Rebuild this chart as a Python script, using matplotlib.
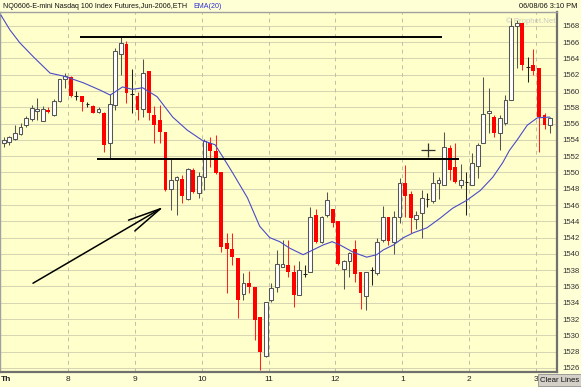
import matplotlib
matplotlib.use('Agg')
import matplotlib.pyplot as plt
import numpy as np

plt.rcParams['font.family'] = ['Liberation Sans', 'DejaVu Sans']

# 5 分钟K线, 07:00 ~ 15:10 (x 轴单位: 距 07:00 的分钟数)
bar_minutes = 5
opens = [1553.6, 1553.7, 1554.1, 1554.7, 1555.8, 1556.6, 1557.6, 1556.3, 1557.7, 1557.0,
         1558.8, 1561.5, 1561.7, 1559.4, 1559.4, 1558.4, 1558.1, 1557.4, 1557.3, 1553.6,
         1558.3, 1564.6, 1565.8, 1559.6, 1559.4, 1557.8, 1562.4, 1557.0, 1556.4, 1555.0,
         1548.0, 1549.1, 1549.2, 1546.7, 1550.3, 1547.5, 1549.5, 1553.6, 1552.6, 1550.1,
         1541.3, 1540.6, 1539.5, 1535.1, 1536.4, 1535.9, 1532.2, 1527.5, 1534.3, 1535.9,
         1538.4, 1538.6, 1537.8, 1535.0, 1537.5, 1537.8, 1544.8, 1541.5, 1544.8, 1545.5,
         1544.0, 1538.2, 1539.1, 1540.6, 1537.8, 1534.8, 1538.0, 1537.7, 1541.7, 1544.5,
         1541.5, 1544.5, 1548.7, 1547.4, 1544.3, 1545.0, 1546.7, 1546.5, 1548.7, 1548.5,
         1553.0, 1550.7, 1548.5, 1548.8, 1548.5, 1550.8, 1553.6, 1557.3, 1556.8, 1554.8,
         1556.1, 1558.9, 1568.0, 1568.3, 1562.9, 1563.2, 1562.8, 1557.0, 1555.8]
highs = [1554.3, 1554.5, 1555.8, 1556.1, 1556.9, 1558.3, 1559.1, 1558.1, 1558.0, 1559.0,
         1561.5, 1562.2, 1561.8, 1560.0, 1559.4, 1558.6, 1558.3, 1558.0, 1557.4, 1559.6,
         1565.3, 1566.6, 1566.1, 1562.7, 1559.9, 1563.9, 1562.4, 1558.1, 1558.3, 1555.0,
         1551.7, 1549.6, 1549.7, 1550.5, 1550.5, 1550.0, 1554.1, 1554.3, 1554.6, 1550.1,
         1542.6, 1542.6, 1539.5, 1537.7, 1537.9, 1535.9, 1532.2, 1534.1, 1536.4, 1540.5,
         1541.7, 1541.7, 1538.6, 1539.1, 1538.6, 1545.8, 1545.5, 1544.6, 1547.6, 1545.5,
         1544.0, 1539.2, 1540.2, 1541.7, 1537.8, 1537.8, 1538.4, 1542.0, 1545.9, 1544.5,
         1545.3, 1549.3, 1550.9, 1547.7, 1545.3, 1547.9, 1547.5, 1550.0, 1549.5, 1555.0,
         1553.4, 1553.6, 1551.0, 1550.1, 1552.4, 1553.6, 1561.7, 1560.4, 1557.0, 1557.0,
         1559.5, 1569.0, 1568.7, 1568.3, 1564.2, 1565.1, 1562.8, 1557.3, 1556.8]
lows = [1553.1, 1553.4, 1554.0, 1554.6, 1555.6, 1556.3, 1556.4, 1556.3, 1557.3, 1556.9,
        1558.6, 1560.4, 1559.3, 1558.9, 1557.5, 1558.0, 1557.3, 1557.3, 1552.5, 1551.8,
        1557.7, 1562.0, 1558.5, 1557.3, 1556.4, 1556.8, 1556.4, 1553.6, 1553.6, 1547.7,
        1545.4, 1544.8, 1546.2, 1546.6, 1547.5, 1546.9, 1547.8, 1550.7, 1549.8, 1540.2,
        1535.2, 1538.6, 1532.1, 1534.3, 1535.2, 1529.4, 1525.8, 1527.4, 1534.1, 1535.3,
        1538.4, 1537.2, 1533.5, 1535.0, 1537.2, 1537.8, 1541.3, 1541.3, 1544.5, 1543.3,
        1538.6, 1535.7, 1537.2, 1536.5, 1533.2, 1533.1, 1536.2, 1537.4, 1541.5, 1541.1,
        1540.0, 1543.8, 1544.5, 1542.6, 1543.1, 1542.0, 1545.7, 1546.3, 1546.8, 1548.5,
        1549.1, 1548.7, 1548.1, 1544.8, 1548.5, 1549.3, 1553.6, 1554.8, 1554.3, 1552.7,
        1555.8, 1558.9, 1562.8, 1562.6, 1561.1, 1562.0, 1552.5, 1555.3, 1554.8]
closes = [1554.0, 1554.3, 1554.8, 1555.6, 1556.7, 1557.9, 1557.8, 1557.8, 1557.4, 1558.8,
          1561.5, 1561.9, 1559.4, 1559.4, 1558.6, 1558.4, 1557.3, 1557.8, 1553.4, 1558.4,
          1564.9, 1565.9, 1559.7, 1559.6, 1557.7, 1562.2, 1557.3, 1555.8, 1555.0, 1547.8,
          1549.1, 1549.4, 1547.1, 1550.4, 1547.6, 1549.6, 1553.9, 1552.6, 1549.9, 1540.9,
          1540.6, 1539.6, 1534.3, 1536.4, 1535.9, 1531.9, 1528.0, 1534.1, 1535.8, 1538.8,
          1538.8, 1537.8, 1535.0, 1538.0, 1537.5, 1544.5, 1541.5, 1544.5, 1546.6, 1543.8,
          1538.8, 1539.1, 1540.1, 1537.5, 1535.2, 1537.8, 1538.0, 1541.5, 1544.5, 1541.6,
          1544.5, 1548.7, 1547.1, 1544.4, 1544.8, 1546.9, 1546.7, 1548.7, 1549.1, 1553.1,
          1550.3, 1548.8, 1549.1, 1548.8, 1551.2, 1553.4, 1557.2, 1557.6, 1554.8, 1556.7,
          1558.9, 1568.0, 1568.4, 1563.2, 1562.9, 1562.4, 1556.8, 1555.8, 1556.7]

# EMA(20) 读数 (分钟, 价格)
ema_min = [0, 8, 17, 29, 44, 57, 74, 89, 98, 109, 118, 127, 140, 154, 167, 181, 192, 199,
           208, 221, 232, 241, 250, 259, 271, 280, 289, 297, 304, 316, 328, 337, 343, 352,
           361, 370, 382, 394, 405, 418, 430, 441, 450, 456, 463, 472, 481, 492]
ema_val = [1569.3, 1567.5, 1565.9, 1564.2, 1562.2, 1561.8, 1561.0, 1560.1, 1559.5, 1560.5,
           1560.2, 1560.4, 1559.3, 1556.8, 1555.2, 1553.9, 1553.4, 1551.9, 1549.9, 1546.9,
           1543.4, 1542.0, 1541.5, 1540.7, 1539.9, 1540.5, 1541.1, 1541.5, 1541.1, 1540.2,
           1539.6, 1539.9, 1540.5, 1541.1, 1542.0, 1542.6, 1543.2, 1544.4, 1545.6, 1546.6,
           1547.8, 1549.4, 1551.2, 1552.7, 1554.0, 1555.8, 1556.7, 1556.8]

# 画线 (阻力/支撑) 与箭头
top_line = ((70.8, 395.6), 1566.6)
mid_line = ((85.7, 411.1), 1551.6)
arrow_tail = (28.7, 1536.4)
arrow_tip = (146.2, 1545.8)
cursor = (382.7, 1552.75)

hour_ticks = [0, 60, 120, 180, 240, 300, 360, 420, 480]
hour_labels = ['Th', '8', '9', '10', '11', '12', '1', '2', '3']
price_ticks = list(range(1526, 1570, 2))

bg = '#FFFFCC'
fig = plt.figure(figsize=(5.81, 3.87), dpi=100, facecolor='#FFFFD6')
ax = fig.add_axes([0.0, 15 / 387, 557 / 581, 360 / 387], facecolor=bg)

o = np.array(opens); h = np.array(highs); l = np.array(lows); c = np.array(closes)
x = np.arange(len(o)) * bar_minutes + bar_minutes / 2
up = c - o > 0.1
dn = o - c > 0.1
doji = ~(up | dn)

# 影线
ax.vlines(x[up], l[up], h[up], color='#555555', lw=0.75, zorder=3)
ax.vlines(x[dn], l[dn], h[dn], color='#FF2020', lw=0.75, zorder=3)
ax.vlines(x[doji], l[doji], h[doji], color='#222222', lw=0.75, zorder=3)
# 实体
w = 3.4
ax.bar(x[up], (c - o)[up], bottom=o[up], width=w, facecolor='white',
       edgecolor='#555555', linewidth=0.75, zorder=4)
ax.bar(x[dn], (o - c)[dn], bottom=c[dn], width=w, color='#FF0000', linewidth=0, zorder=4)
ax.hlines(c[doji], x[doji] - w / 2, x[doji] + w / 2, color='#222222', lw=0.75, zorder=4)

ax.plot(ema_min, ema_val, color='#4B4BC8', lw=0.8, zorder=5)

ax.hlines(top_line[1], *top_line[0], color='black', lw=1.4, zorder=6)
ax.hlines(mid_line[1], *mid_line[0], color='black', lw=1.4, zorder=6)
ax.annotate('', xy=arrow_tip, xytext=arrow_tail, zorder=6,
            arrowprops=dict(arrowstyle='->,head_length=24,head_width=4.5',
                            mutation_scale=1, color='black', lw=1.1,
                            shrinkA=0, shrinkB=0))
ax.plot(*cursor, marker='+', color='#333333', ms=9.5, mew=0.9, zorder=7)

# 网格
for p in price_ticks:
    ax.axhline(p, color='#D6D6B4', lw=0.75, zorder=1)
for t in hour_ticks[1:]:
    ax.axvline(t, color='#C0C0A8', lw=0.7, ls=(0, (4, 4)), zorder=1)

ax.set_xlim(-0.9, 498.7)
ax.set_ylim(1525.5, 1569.7)
ax.yaxis.tick_right()
ax.set_yticks(price_ticks)
ax.set_yticklabels([str(p) for p in price_ticks], fontsize=5.6, color='#333333')
ax.tick_params(axis='y', length=0, pad=4)
ax.set_xticks(hour_ticks)
ax.set_xticklabels(hour_labels, fontsize=6, color='#222222')
ax.get_xticklabels()[0].set_fontweight('bold')
ax.get_xticklabels()[0].set_horizontalalignment('left')
ax.tick_params(axis='x', length=0, pad=3)

for s in ['top', 'left']:
    ax.spines[s].set_color('#A0A0A0')
    ax.spines[s].set_linewidth(1)
for s in ['right', 'bottom']:
    ax.spines[s].set_color('#707070')
    ax.spines[s].set_linewidth(1.6)

fig.text(3 / 581, 1 - 6 / 387, 'NQ0606-E-mini Nasdaq 100 Index Futures,Jun-2006,ETH',
         fontsize=5.1, va='center', ha='left', color='#111111')
fig.text(193 / 581, 1 - 6 / 387, 'EMA(20)', fontsize=5.1, va='center', ha='left', color='#3030D0')
fig.text(577 / 581, 1 - 6 / 387, '06/08/06 3:10 PM', fontsize=5.3, va='center', ha='right',
         color='#111111')
ax.text(0.998, 0.985, '© Prophet.Net', transform=ax.transAxes, fontsize=5.6,
        ha='right', va='top', color='#C8C8C0')
fig.text(560 / 581, 1 - 380 / 387, 'Clear Lines', fontsize=5.6, ha='center', va='center',
         color='#111111',
         bbox=dict(boxstyle='square,pad=0.3', facecolor='#D4D0C8', edgecolor='#909090', lw=0.6))

plt.savefig('out.png', dpi=100, facecolor=fig.get_facecolor())
